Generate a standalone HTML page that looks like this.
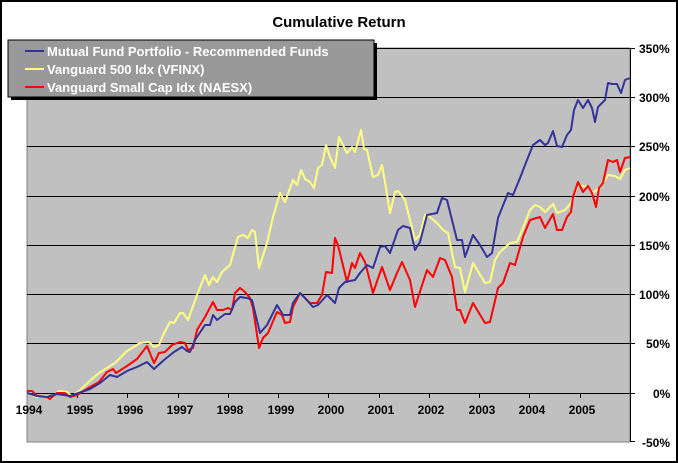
<!DOCTYPE html>
<html><head><meta charset="utf-8"><style>
body{margin:0;background:#fff;}
svg{display:block;font-family:"Liberation Sans",Arial,sans-serif;font-weight:bold;}
</style></head><body>
<svg width="678" height="463" viewBox="0 0 678 463">
<rect x="1" y="1" width="676" height="461" fill="#fff" stroke="#000" stroke-width="2"/>
<text x="339" y="27" font-size="15" text-anchor="middle">Cumulative Return</text>
<rect x="27" y="48" width="603" height="394" fill="#c0c0c0" stroke="#808080" stroke-width="1"/>
<g stroke="#000" stroke-width="1">
<line x1="27" y1="48.5" x2="630" y2="48.5"/>
<line x1="27" y1="97.5" x2="630" y2="97.5"/>
<line x1="27" y1="146.5" x2="630" y2="146.5"/>
<line x1="27" y1="196.5" x2="630" y2="196.5"/>
<line x1="27" y1="245.5" x2="630" y2="245.5"/>
<line x1="27" y1="294.5" x2="630" y2="294.5"/>
<line x1="27" y1="343.5" x2="630" y2="343.5"/>
<line x1="27" y1="393.5" x2="630" y2="393.5"/>
<line x1="630.5" y1="48" x2="630.5" y2="442"/>
<line x1="630" y1="48.5" x2="635" y2="48.5"/><line x1="630" y1="97.5" x2="635" y2="97.5"/><line x1="630" y1="146.5" x2="635" y2="146.5"/><line x1="630" y1="196.5" x2="635" y2="196.5"/><line x1="630" y1="245.5" x2="635" y2="245.5"/><line x1="630" y1="294.5" x2="635" y2="294.5"/><line x1="630" y1="343.5" x2="635" y2="343.5"/><line x1="630" y1="393.5" x2="635" y2="393.5"/><line x1="630" y1="441.5" x2="635" y2="441.5"/>
<path d="M77.5 393v5M127.5 393v5M178.5 393v5M228.5 393v5M278.5 393v5M328.5 393v5M379.5 393v5M429.5 393v5M479.5 393v5M529.5 393v5M580.5 393v5"/>
</g>
<g font-size="12" text-anchor="start">
<text x="639" y="53">350%</text><text x="639" y="102">300%</text><text x="639" y="151">250%</text><text x="639" y="201">200%</text><text x="639" y="250">150%</text><text x="639" y="299">100%</text><text x="646" y="348">50%</text><text x="653" y="398">0%</text><text x="642" y="447">-50%</text>
</g>
<g font-size="12" text-anchor="middle">
<text x="29" y="414">1994</text><text x="80" y="414">1995</text><text x="130" y="414">1996</text><text x="180" y="414">1997</text><text x="230" y="414">1998</text><text x="281" y="414">1999</text><text x="331" y="414">2000</text><text x="381" y="414">2001</text><text x="431" y="414">2002</text><text x="482" y="414">2003</text><text x="532" y="414">2004</text><text x="582" y="414">2005</text>
</g>
<g fill="none" stroke-width="2" stroke-linejoin="round">
<polyline stroke="#ffff80" points="27,393 37,397 47,396 52,398 59,391 67,392 72,396 80,390 92,379 99,373 107,368 115,363 127,351 140,343 149,342 154,347 159,345 164,333 170,322 174,323 180,313 183,313 188,320 197,295 205,275 209,285 213,277 217,282 222,272 230,265 238,237 243,235 248,238 252,230 255,232 259,268 267,243 273,217 280,193 285,202 293,180 297,185 301,170 305,179 310,182 314,188 318,168 322,165 326,145 330,157 335,168 339,137 347,153 352,147 355,152 357,145 361,130 364,149 367,150 373,177 378,175 382,165 385,182 390,213 395,192 398,191 405,200 415,240 420,235 425,215 430,217 437,223 443,230 448,233 455,267 460,268 465,292 473,263 485,283 490,282 495,260 500,252 510,243 517,242 523,228 530,210 535,205 540,207 545,212 553,204 557,213 565,210 571,203 573,197 578,185 588,187 593,193 600,187 605,180 608,175 615,176 620,179 625,170 630,168"/>
<polyline stroke="#ff0000" points="27,391 32,391 37,396 47,397 50,399 57,393 65,393 70,397 77,395 90,387 99,382 107,372 113,369 116,373 127,366 137,359 147,346 154,363 159,353 165,352 172,345 180,342 185,343 188,350 193,348 197,330 205,317 213,302 217,310 223,310 228,308 232,310 235,293 240,288 245,292 250,298 253,308 259,348 263,338 268,333 277,312 282,315 285,323 290,322 293,307 300,293 310,303 317,303 322,295 326,272 332,273 335,238 338,245 347,282 352,263 355,268 360,253 365,262 373,293 382,267 390,290 397,273 402,262 410,280 415,307 427,270 433,277 440,258 445,260 452,277 457,310 460,310 465,323 473,303 485,323 490,322 498,288 503,283 510,263 515,265 523,237 530,220 540,217 545,228 553,214 557,230 562,230 567,217 571,212 573,197 578,182 583,192 588,186 592,193 596,207 599,188 603,183 608,160 613,162 617,160 620,172 625,158 630,157"/>
<polyline stroke="#333399" points="27,393 37,396 47,397 57,394 70,396 90,389 100,383 110,375 117,377 127,371 137,367 147,362 154,369 164,360 174,352 182,347 187,351 190,352 195,340 205,325 210,325 213,315 217,320 225,314 230,314 235,302 240,297 247,298 252,300 260,333 267,325 277,305 283,315 290,315 293,303 300,293 305,298 313,307 318,305 327,295 335,303 339,288 345,282 355,280 360,273 367,265 373,268 380,247 385,246 390,253 398,230 403,226 410,228 415,250 420,242 427,215 437,213 442,198 447,200 457,240 462,240 465,257 473,235 480,245 487,257 492,253 498,218 508,193 513,195 520,178 527,160 533,145 540,140 545,145 548,143 553,131 557,146 562,147 567,135 571,130 574,110 578,100 583,108 588,100 592,108 595,122 598,107 605,100 608,83 612,84 617,84 621,93 625,80 630,78"/>
</g>
<rect x="11" y="43" width="366" height="57" fill="#000"/>
<rect x="8" y="40" width="366" height="57" fill="#999999" stroke="#000" stroke-width="1"/>
<g stroke-width="2"><line x1="25" y1="51" x2="44" y2="51" stroke="#333399"/><line x1="25" y1="69" x2="44" y2="69" stroke="#ffff80"/><line x1="25" y1="87" x2="44" y2="87" stroke="#ff0000"/></g>
<g font-size="13" fill="#fff"><text x="47" y="56">Mutual Fund Portfolio - Recommended Funds</text><text x="47" y="74">Vanguard 500 Idx (VFINX)</text><text x="47" y="92">Vanguard Small Cap Idx (NAESX)</text></g>
</svg>
</body></html>
